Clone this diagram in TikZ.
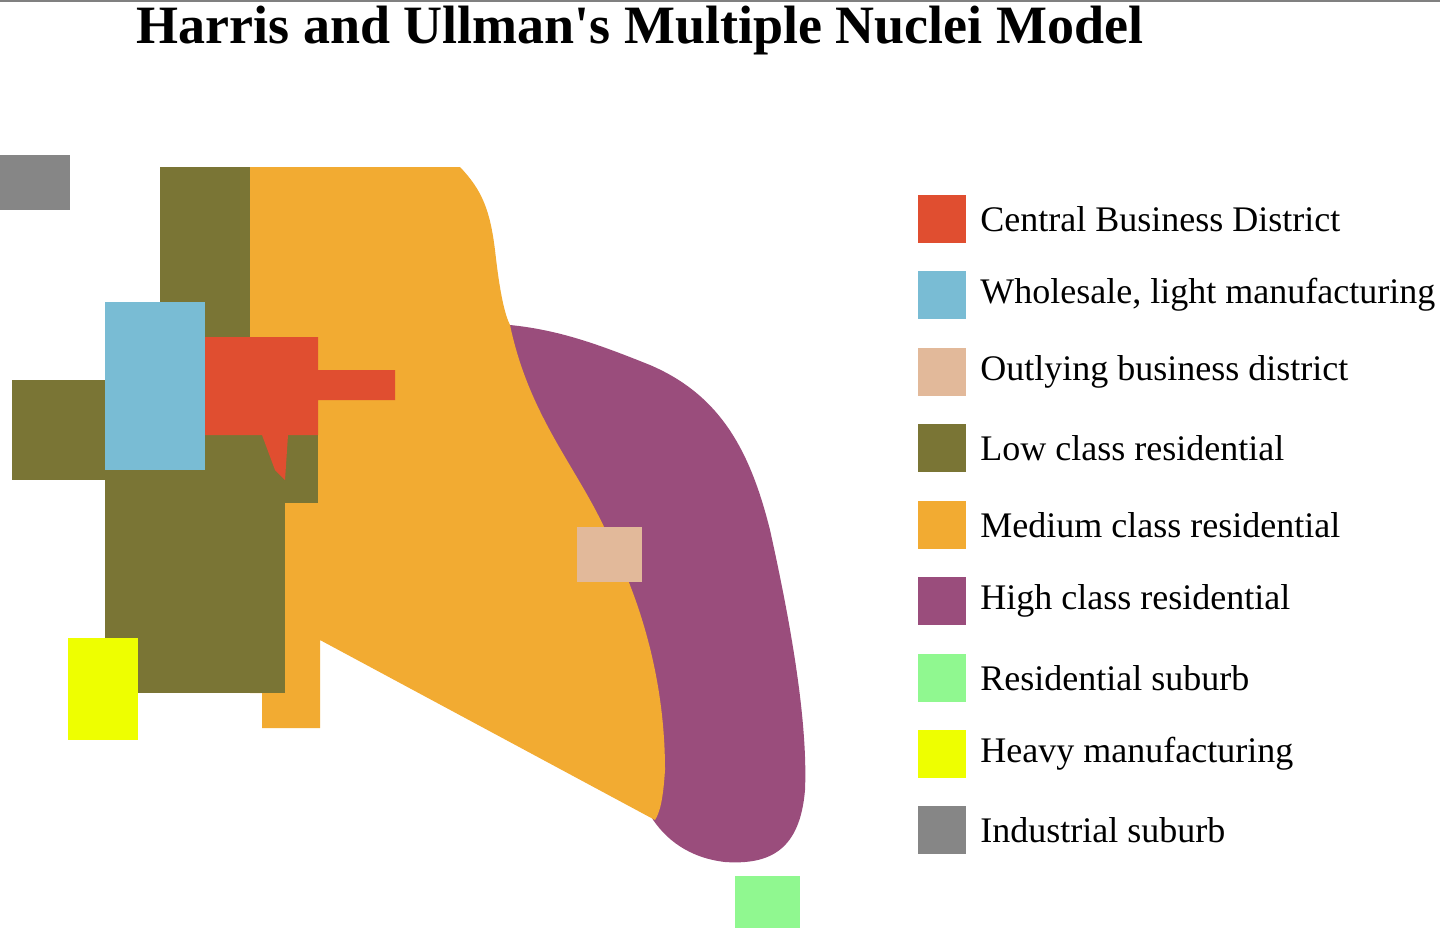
\documentclass[tikz,border=0pt]{standalone}
\usepackage{fontspec}
\setmainfont{Liberation Serif}
\newfontfamily\titlefont{Liberation Serif}
\begin{document}
\begin{tikzpicture}[x=0.5pt,y=-0.5pt]
\definecolor{olive}{HTML}{7A7535}
\definecolor{medium}{HTML}{F2AB32}
\definecolor{high}{HTML}{9A4D7C}
\definecolor{cbd}{HTML}{E04E30}
\definecolor{whole}{HTML}{79BCD4}
\definecolor{outly}{HTML}{E2B99A}
\definecolor{heavy}{HTML}{EEFF00}
\definecolor{sub}{HTML}{90F890}
\definecolor{ind}{HTML}{868686}
\tikzset{legtext/.style={anchor=west,font=\fontsize{18}{20}\selectfont,inner sep=0pt}}
\useasboundingbox (0,0) rectangle (1440,938);
\draw[gray,line width=1pt] (0,1) -- (1440,1);
\node[font=\titlefont\bfseries\fontsize{27}{30}\selectfont] (title) at (640,31) {Harris and Ullman's Multiple Nuclei Model};
% industrial suburb
\fill[ind] (0,155) rectangle (70,210);
% high class
\fill[high] (510,325) .. controls (560,330) and (600,345) .. (650,365)
 .. controls (720,395) and (750,450) .. (770,530)
 .. controls (790,620) and (808,720) .. (805,790)
 .. controls (800,850) and (770,865) .. (725,862)
 .. controls (690,858) and (665,840) .. (650,815)
 -- (560,600) -- (500,330) -- cycle;
% medium class
\fill[medium] (250,167) -- (460,167) .. controls (482,190) and (490,210) .. (495,250)
 .. controls (500,295) and (505,315) .. (510,325)
 .. controls (530,420) and (580,470) .. (610,540)
 .. controls (650,620) and (665,700) .. (665,770)
 .. controls (663,800) and (660,812) .. (655,820)
 -- (320,640) -- (320,728) -- (262,728) -- (262,693) -- (250,693) -- cycle;
% low class
\fill[olive] (160,167) rectangle (250,342);
\fill[olive] (12,380) rectangle (105,480);
\fill[olive] (105,340) rectangle (285,693);
\fill[olive] (205,337) rectangle (318,503);
% wholesale
\fill[whole] (105,302) rectangle (205,470);
% CBD
\fill[cbd] (205,337) -- (318,337) -- (318,370) -- (395,370) -- (395,400) -- (318,400) -- (318,435)
 -- (288,435) -- (285,480) -- (275,470) -- (262,435) -- (205,435) -- cycle;
% outlying
\fill[outly] (577,527) rectangle (642,582);
% heavy manufacturing
\fill[heavy] (68,638) rectangle (138,740);
% residential suburb
\fill[sub] (735,876) rectangle (800,928);
% legend
\foreach \c/\t/\y [count=\i] in {cbd/Central Business District/219,
 whole/{Wholesale, light manufacturing}/295,
 outly/Outlying business district/372,
 olive/Low class residential/448,
 medium/Medium class residential/525,
 high/High class residential/601,
 sub/Residential suburb/678,
 heavy/Heavy manufacturing/754,
 ind/Industrial suburb/830}{
 \fill[\c] (918,\y-24) rectangle (966,\y+24);
 \node[legtext] (leg\i) at (980,\y) {\t};
}
\end{tikzpicture}
\end{document}
